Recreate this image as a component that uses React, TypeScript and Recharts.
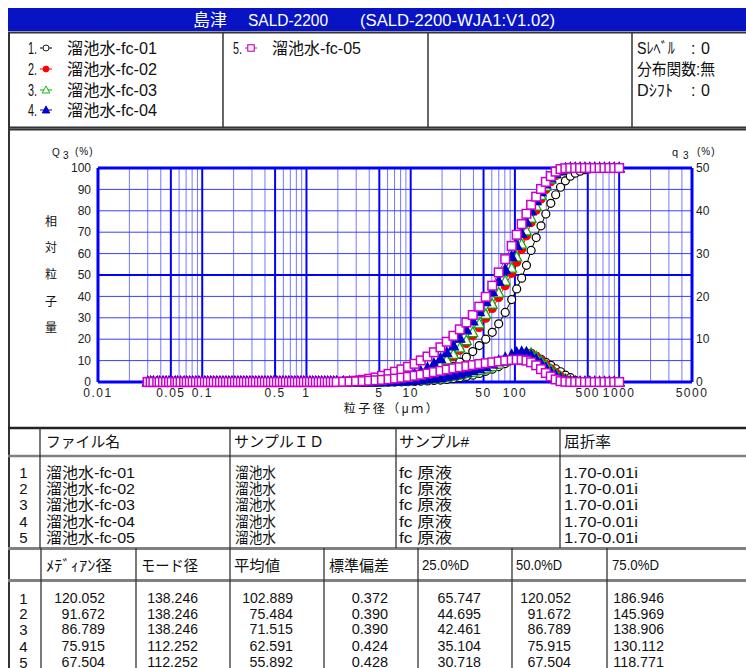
import React from 'react';
import { ComposedChart, Line, XAxis, YAxis, CartesianGrid } from 'recharts';

// particle size classes (µm)
const sizes = [
  0.030, 0.032, 0.034, 0.037, 0.039, 0.042, 0.045, 0.048, 0.051, 0.055,
  0.058, 0.062, 0.067, 0.071, 0.076, 0.081, 0.087, 0.093, 0.099, 0.106,
  0.113, 0.121, 0.129, 0.138, 0.148, 0.158, 0.169, 0.180, 0.193, 0.206,
  0.220, 0.235, 0.251, 0.268, 0.287, 0.306, 0.327, 0.350, 0.374, 0.399,
  0.427, 0.456, 0.487, 0.520, 0.556, 0.594, 0.635, 0.678, 0.725, 0.774,
  0.827, 0.884, 0.944, 1.01, 1.08, 1.15, 1.23, 1.31, 1.40, 1.50,
  1.60, 1.71, 1.83, 1.95,
  2.25, 2.59, 2.99, 3.46, 3.99, 4.60, 5.31, 6.13, 7.07, 8.16,
  9.42, 10.9, 12.5, 14.5, 16.7, 19.3, 22.2, 25.7, 29.6, 34.2,
  39.4, 45.5, 52.5, 60.6, 69.9, 80.7, 93.1,
  104, 116, 129, 143, 160, 178, 198, 221, 246, 274,
  305, 340, 379, 422, 470, 523, 583, 649, 723, 806, 897, 1000,
];

// Q3 undersize (%)
const cum1 = [
  0, 0, 0, 0, 0, 0, 0, 0, 0, 0, 0, 0, 0, 0, 0, 0, 0, 0, 0, 0,
  0, 0, 0, 0, 0, 0, 0, 0, 0, 0, 0, 0, 0, 0, 0, 0, 0, 0, 0, 0,
  0, 0, 0, 0, 0, 0, 0, 0, 0, 0, 0, 0, 0, 0, 0, 0, 0, 0, 0, 0,
  0, 0, 0, 0,
  0, 0, 0, 0, 0, 0, 0.05, 0.1, 0.2, 0.35, 0.6, 1.0, 1.5, 2.2, 3.1, 4.2,
  5.6, 7.3, 9.3, 11.6, 14.2, 17.0, 20.0, 23.2, 27.2, 32.5, 38.5,
  43.5, 48.5, 54.5, 61.5, 67.5, 73.0, 78.5, 83.5, 87.5, 91.0, 94.0,
  96.2, 97.6, 98.5, 99.2, 99.6, 99.9, 100, 100, 100, 100, 100,
];
const cum2 = [
  0, 0, 0, 0, 0, 0, 0, 0, 0, 0, 0, 0, 0, 0, 0, 0, 0, 0, 0, 0,
  0, 0, 0, 0, 0, 0, 0, 0, 0, 0, 0, 0, 0, 0, 0, 0, 0, 0, 0, 0,
  0, 0, 0, 0, 0, 0, 0, 0, 0, 0, 0, 0, 0, 0, 0, 0, 0, 0, 0, 0,
  0, 0, 0, 0,
  0, 0, 0.02, 0.04, 0.08, 0.15, 0.25, 0.4, 0.65, 1.0, 1.5, 2.2, 3.1, 4.2, 5.6, 7.4,
  9.5, 12.0, 14.8, 18.0, 21.6, 25.5, 29.8, 34.4, 39.5, 45.0, 50.8,
  56.0, 62.0, 68.3, 74.5, 80.3, 85.5, 90.0, 93.6, 96.4, 98.3, 99.4,
  99.9, 100, 100, 100, 100, 100, 100, 100, 100, 100, 100,
];
const cum3 = [
  0, 0, 0, 0, 0, 0, 0, 0, 0, 0, 0, 0, 0, 0, 0, 0, 0, 0, 0, 0,
  0, 0, 0, 0, 0, 0, 0, 0, 0, 0, 0, 0, 0, 0, 0, 0, 0, 0, 0, 0,
  0, 0, 0, 0, 0, 0, 0, 0, 0, 0, 0, 0, 0, 0, 0, 0, 0, 0, 0, 0,
  0, 0, 0, 0,
  0, 0.01, 0.03, 0.06, 0.1, 0.18, 0.3, 0.5, 0.8, 1.2, 1.8, 2.5, 3.5, 4.7, 6.2, 8.1,
  10.3, 12.9, 15.9, 19.3, 23.1, 27.2, 31.6, 36.4, 41.6, 47.2, 53.2,
  58.4, 64.4, 70.6, 76.6, 82.2, 87.2, 91.4, 94.7, 97.1, 98.7, 99.6,
  99.9, 100, 100, 100, 100, 100, 100, 100, 100, 100, 100,
];
const cum4 = [
  0, 0, 0, 0, 0, 0, 0, 0, 0, 0, 0, 0, 0, 0, 0, 0, 0, 0, 0, 0,
  0, 0, 0, 0, 0, 0, 0, 0, 0, 0, 0, 0, 0, 0, 0, 0, 0, 0, 0, 0,
  0, 0, 0, 0, 0, 0, 0, 0, 0, 0, 0, 0, 0, 0, 0, 0, 0, 0, 0, 0,
  0, 0, 0, 0,
  0.01, 0.02, 0.05, 0.1, 0.18, 0.3, 0.5, 0.8, 1.2, 1.8, 2.6, 3.6, 4.9, 6.5, 8.5, 10.9,
  13.7, 16.9, 20.5, 24.4, 28.5, 32.9, 37.5, 42.2, 47.0, 52.6, 58.6,
  63.8, 69.4, 74.8, 80.0, 84.8, 89.0, 92.6, 95.4, 97.5, 98.9, 99.7,
  100, 100, 100, 100, 100, 100, 100, 100, 100, 100, 100,
];
const cum5 = [
  0, 0, 0, 0, 0, 0, 0, 0, 0, 0, 0, 0, 0, 0, 0, 0, 0, 0, 0, 0,
  0, 0, 0, 0, 0, 0, 0, 0, 0, 0, 0, 0, 0, 0, 0, 0, 0, 0, 0, 0,
  0, 0, 0, 0, 0, 0, 0, 0, 0, 0, 0, 0, 0, 0, 0, 0, 0, 0, 0, 0,
  0, 0, 0, 0,
  0.1, 0.3, 0.6, 1.0, 1.5, 2.1, 2.9, 3.8, 4.8, 5.9, 7.1, 8.5, 10.1, 11.9, 13.9, 16.2,
  18.8, 21.6, 24.6, 27.8, 31.3, 35.2, 39.8, 45.0, 51.2, 57.4, 63.6,
  68.8, 73.8, 78.6, 82.8, 86.6, 90.2, 93.5, 96.2, 98.3, 99.5, 99.9,
  100, 100, 100, 100, 100, 100, 100, 100, 100, 100, 100,
];

// q3 frequency (%)
const frq1 = [
  0, 0, 0, 0, 0, 0, 0, 0, 0, 0, 0, 0, 0, 0, 0, 0, 0, 0, 0, 0,
  0, 0, 0, 0, 0, 0, 0, 0, 0, 0, 0, 0, 0, 0, 0, 0, 0, 0, 0, 0,
  0, 0, 0, 0, 0, 0, 0, 0, 0, 0, 0, 0, 0, 0, 0, 0, 0, 0, 0, 0,
  0, 0, 0, 0,
  0, 0, 0, 0, 0, 0, 0, 0, 0.02, 0.05, 0.08, 0.12, 0.18, 0.25, 0.35, 0.45,
  0.6, 0.8, 1.0, 1.3, 1.6, 2.0, 2.5, 3.0, 3.6, 4.3, 5.0,
  5.7, 6.3, 6.7, 6.7, 6.0, 5.3, 4.6, 3.9, 3.1, 2.4, 1.6,
  1.0, 0.4, 0.1, 0, 0, 0, 0, 0, 0, 0, 0,
];
const frq2 = [
  0, 0, 0, 0, 0, 0, 0, 0, 0, 0, 0, 0, 0, 0, 0, 0, 0, 0, 0, 0,
  0, 0, 0, 0, 0, 0, 0, 0, 0, 0, 0, 0, 0, 0, 0, 0, 0, 0, 0, 0,
  0, 0, 0, 0, 0, 0, 0, 0, 0, 0, 0, 0, 0, 0, 0, 0, 0, 0, 0, 0,
  0, 0, 0, 0,
  0, 0, 0, 0, 0, 0, 0.03, 0.06, 0.1, 0.15, 0.22, 0.3, 0.4, 0.55, 0.7, 0.9,
  1.1, 1.35, 1.6, 1.9, 2.2, 2.6, 3.0, 3.5, 4.1, 4.8, 5.5,
  6.1, 6.5, 6.8, 6.7, 6.0, 5.1, 4.1, 3.1, 2.2, 1.4, 0.7,
  0.25, 0.05, 0, 0, 0, 0, 0, 0, 0, 0, 0,
];
const frq3 = [
  0, 0, 0, 0, 0, 0, 0, 0, 0, 0, 0, 0, 0, 0, 0, 0, 0, 0, 0, 0,
  0, 0, 0, 0, 0, 0, 0, 0, 0, 0, 0, 0, 0, 0, 0, 0, 0, 0, 0, 0,
  0, 0, 0, 0, 0, 0, 0, 0, 0, 0, 0, 0, 0, 0, 0, 0, 0, 0, 0, 0,
  0, 0, 0, 0,
  0, 0, 0, 0, 0, 0, 0.04, 0.07, 0.12, 0.18, 0.25, 0.35, 0.45, 0.6, 0.75, 0.95,
  1.15, 1.4, 1.7, 2.0, 2.3, 2.7, 3.1, 3.6, 4.2, 4.9, 5.7,
  6.3, 6.7, 6.9, 6.7, 5.9, 4.9, 3.9, 2.9, 2.0, 1.2, 0.6,
  0.2, 0.05, 0, 0, 0, 0, 0, 0, 0, 0, 0,
];
const frq4 = [
  0, 0, 0, 0, 0, 0, 0, 0, 0, 0, 0, 0, 0, 0, 0, 0, 0, 0, 0, 0,
  0, 0, 0, 0, 0, 0, 0, 0, 0, 0, 0, 0, 0, 0, 0, 0, 0, 0, 0, 0,
  0, 0, 0, 0, 0, 0, 0, 0, 0, 0, 0, 0, 0, 0, 0, 0, 0, 0, 0, 0,
  0, 0, 0, 0,
  0, 0, 0, 0, 0, 0.03, 0.06, 0.1, 0.15, 0.22, 0.3, 0.4, 0.55, 0.7, 0.9, 1.1,
  1.35, 1.6, 1.9, 2.3, 2.7, 3.1, 3.6, 4.2, 4.9, 5.6, 6.3,
  6.8, 7.0, 6.8, 6.2, 5.3, 4.3, 3.3, 2.3, 1.5, 0.8, 0.3,
  0.1, 0, 0, 0, 0, 0, 0, 0, 0, 0, 0,
];
const frq5 = [
  0, 0, 0, 0, 0, 0, 0, 0, 0, 0, 0, 0, 0, 0, 0, 0, 0, 0, 0, 0,
  0, 0, 0, 0, 0, 0, 0, 0, 0, 0, 0, 0, 0, 0, 0, 0, 0, 0, 0, 0,
  0, 0, 0, 0, 0, 0, 0, 0, 0, 0, 0, 0, 0, 0, 0, 0, 0, 0, 0, 0,
  0, 0, 0, 0,
  0.05, 0.1, 0.15, 0.2, 0.3, 0.4, 0.5, 0.65, 0.8, 1.0, 1.2, 1.45, 1.7, 2.0, 2.3, 2.6,
  2.9, 3.2, 3.45, 3.7, 3.95, 4.2, 4.4, 4.6, 4.8, 5.0, 5.15,
  5.2, 5.2, 5.0, 4.6, 3.9, 3.0, 2.1, 1.3, 0.6, 0.2, 0.05,
  0, 0, 0, 0, 0, 0, 0, 0, 0, 0, 0,
];

const xTickValues = [0.01, 0.05, 0.1, 0.5, 1, 5, 10, 50, 100, 500, 1000, 5000];
const xMajorLines = [0.05, 0.1, 0.5, 1, 5, 10, 50, 100, 500, 1000];
const xMinorLines = [
  0.02, 0.03, 0.04, 0.06, 0.07, 0.08, 0.09, 0.2, 0.3, 0.4, 0.6, 0.7, 0.8, 0.9,
  2, 3, 4, 6, 7, 8, 9, 20, 30, 40, 60, 70, 80, 90, 200, 300, 400, 600, 700, 800, 900,
  2000, 3000, 4000,
];
const xBorderLines = [0.01, 5000];
const leftTicks = [0, 10, 20, 30, 40, 50, 60, 70, 80, 90, 100];
const rightTicks = [0, 10, 20, 30, 40, 50];
const hMinorLines = [10, 20, 30, 40, 60, 70, 80, 90];
const hMajorLines = [50];
const hBorderLines = [0, 100];

const fileNames = ['溜池水-fc-01', '溜池水-fc-02', '溜池水-fc-03', '溜池水-fc-04', '溜池水-fc-05'];
const sampleIds = ['溜池水', '溜池水', '溜池水', '溜池水', '溜池水'];
const sampleNos = ['fc 原液', 'fc 原液', 'fc 原液', 'fc 原液', 'fc 原液'];
const refIndex = ['1.70-0.01i', '1.70-0.01i', '1.70-0.01i', '1.70-0.01i', '1.70-0.01i'];
const medianD = ['120.052', '91.672', '86.789', '75.915', '67.504'];
const modeD = ['138.246', '138.246', '138.246', '112.252', '112.252'];
const meanD = ['102.889', '75.484', '71.515', '62.591', '55.892'];
const stdDev = ['0.372', '0.390', '0.390', '0.424', '0.428'];
const d25 = ['65.747', '44.695', '42.461', '35.104', '30.718'];
const d50 = ['120.052', '91.672', '86.789', '75.915', '67.504'];
const d75 = ['186.946', '145.969', '138.906', '130.112', '118.771'];

const cums = [cum1, cum2, cum3, cum4, cum5];
const frqs = [frq1, frq2, frq3, frq4, frq5];

const rows = sizes.map((d, i) => {
  const r: any = { d };
  cums.forEach((c, k) => (r['c' + (k + 1)] = c[i]));
  frqs.forEach((f, k) => (r['f' + (k + 1)] = f[i]));
  return r;
});

type Shape = 'circle' | 'triangle' | 'square';
const seriesStyle: { color: string; shape: Shape; filled: boolean }[] = [
  { color: '#000000', shape: 'circle', filled: false },
  { color: '#ff0000', shape: 'circle', filled: true },
  { color: '#00b000', shape: 'triangle', filled: false },
  { color: '#0000c8', shape: 'triangle', filled: true },
  { color: '#cc00cc', shape: 'square', filled: false },
];

const FONT = "'Liberation Sans','Noto Sans CJK JP',sans-serif";

function Marker({ cx, cy, shape, color, filled }: any) {
  const fill = filled ? color : '#ffffff';
  if (shape === 'circle') return <circle cx={cx} cy={cy} r={4} fill={fill} stroke={color} strokeWidth={1.2} />;
  if (shape === 'triangle')
    return (
      <polygon
        points={`${cx},${cy - 5.5} ${cx - 5},${cy + 4} ${cx + 5},${cy + 4}`}
        fill={fill}
        stroke={color}
        strokeWidth={1.2}
      />
    );
  return <rect x={cx - 4.3} y={cy - 4.3} width={8.6} height={8.6} fill={fill} stroke={color} strokeWidth={1.5} />;
}

const dotFor = (k: number) => (p: any) => {
  const s = seriesStyle[k];
  if (p.cx == null || p.cy == null) return <g key={p.index} />;
  return (
    <g key={p.index}>
      <Marker cx={p.cx} cy={p.cy} shape={s.shape} color={s.color} filled={s.filled} />
    </g>
  );
};

function Txt({ x, y, s = 15, anchor = 'start', fill = '#111', ls = 0, w, font = FONT, children }: any) {
  return (
    <text
      x={x}
      y={y}
      fontSize={s}
      textAnchor={anchor}
      dominantBaseline="central"
      fill={fill}
      letterSpacing={ls}
      fontFamily={font}
      textLength={w}
      lengthAdjust={w ? 'spacingAndGlyphs' : undefined}
    >
      {children}
    </text>
  );
}

// table numbers: fixed character cell like the instrument printout
function Num({ x, y, v }: any) {
  return (
    <Txt x={x} y={y} anchor="end" s={14.5} w={v.length * 7.25}>
      {v}
    </Txt>
  );
}

function LegendMark({ x, y, k }: any) {
  const s = seriesStyle[k];
  const small = 0.75;
  return (
    <g>
      <line x1={x - 6} y1={y} x2={x + 6} y2={y} stroke={s.color} strokeWidth={1} />
      <g transform={`translate(${x},${y}) scale(${small}) translate(${-x},${-y})`}>
        <Marker cx={x} cy={y} shape={s.shape} color={s.color} filled={s.filled} />
      </g>
    </g>
  );
}

const legendRowY = [48, 69, 90, 110];
const tbl1RowY = [472, 488, 504.5, 521, 537];
const tbl2RowY = [598, 613.5, 629, 646, 662];

function Frame() {
  const line = '#333';
  const gray = '#808080';
  return (
    <svg width={746} height={668} style={{ position: 'absolute', left: 0, top: 0 }}>
      <rect x={0} y={0} width={746} height={668} fill="#fff" />
      {/* title */}
      <rect x={8} y={8} width={738} height={23} fill="#0814c4" />
      <Txt x={193} y={20} fill="#fff" s={17}>島津</Txt>
      <Txt x={248} y={20} fill="#fff" s={16} w={80}>SALD-2200</Txt>
      <Txt x={360} y={20} fill="#fff" s={16} w={195}>(SALD-2200-WJA1:V1.02)</Txt>

      {/* legend box */}
      <line x1={8} y1={32.5} x2={746} y2={32.5} stroke={line} strokeWidth={2} />
      <line x1={8} y1={127.5} x2={746} y2={127.5} stroke={line} strokeWidth={2} />
      {[223, 428, 632].map((x) => (
        <line key={x} x1={x} y1={32} x2={x} y2={127} stroke={line} strokeWidth={1.5} />
      ))}
      {[0, 1, 2, 3].map((k) => (
        <g key={k}>
          <Txt x={28} y={legendRowY[k]} s={16} w={9}>{k + 1 + '.'}</Txt>
          <LegendMark x={46} y={legendRowY[k]} k={k} />
          <Txt x={67} y={legendRowY[k]} s={16} w={90}>{fileNames[k]}</Txt>
        </g>
      ))}
      <Txt x={233} y={legendRowY[0]} s={16} w={9}>5.</Txt>
      <LegendMark x={251} y={legendRowY[0]} k={4} />
      <Txt x={272} y={legendRowY[0]} s={16} w={89}>{fileNames[4]}</Txt>
      <Txt x={637} y={legendRowY[0]} s={16} w={38}>Sﾚﾍﾞﾙ</Txt>
      <Txt x={691} y={legendRowY[0]} s={16}>:</Txt>
      <Txt x={701} y={legendRowY[0]} s={16}>0</Txt>
      <Txt x={637} y={legendRowY[1]} s={16} w={78}>分布関数:無</Txt>
      <Txt x={637} y={legendRowY[2]} s={16} w={36}>Dｼﾌﾄ</Txt>
      <Txt x={691} y={legendRowY[2]} s={16}>:</Txt>
      <Txt x={701} y={legendRowY[2]} s={16}>0</Txt>

      {/* chart box */}
      <line x1={8} y1={129.5} x2={746} y2={129.5} stroke={line} strokeWidth={2} />
      <line x1={9} y1={32} x2={9} y2={668} stroke={line} strokeWidth={2} />
      <Txt x={52} y={152} s={10}>Q</Txt>
      <Txt x={63} y={155} s={10}>3</Txt>
      <Txt x={75} y={151} s={10} ls={1}>(%)</Txt>
      <Txt x={672} y={152} s={11}>q</Txt>
      <Txt x={683} y={155} s={10}>3</Txt>
      <Txt x={697} y={151} s={10} ls={1}>(%)</Txt>
      {['相', '対', '粒', '子', '量'].map((c, i) => (
        <Txt key={c} x={51} y={[221.5, 248, 275, 301.5, 328][i]} s={12} anchor="middle">
          {c}
        </Txt>
      ))}
      <Txt x={392} y={409} s={12} anchor="middle" ls={2.5}>粒子径（μｍ）</Txt>

      {/* table 1 */}
      <line x1={8} y1={428} x2={746} y2={428} stroke="#222" strokeWidth={2.5} />
      <line x1={8} y1={456} x2={746} y2={456} stroke={gray} strokeWidth={2.5} />
      <line x1={8} y1={548.5} x2={746} y2={548.5} stroke={gray} strokeWidth={3} />
      {[40, 230, 396, 560].map((x) => (
        <line key={x} x1={x} y1={428} x2={x} y2={548} stroke={line} strokeWidth={1.3} />
      ))}
      <Txt x={46} y={441} w={74}>ファイル名</Txt>
      <Txt x={234} y={441} w={90}>サンプルＩＤ</Txt>
      <Txt x={399} y={441} w={70}>サンプル#</Txt>
      <Txt x={564} y={441} w={47}>屈折率</Txt>
      {tbl1RowY.map((y, i) => (
        <g key={i}>
          <Txt x={23.5} y={y} anchor="middle">{String(i + 1)}</Txt>
          <Txt x={46} y={y} w={89}>{fileNames[i]}</Txt>
          <Txt x={235} y={y} w={41}>{sampleIds[i]}</Txt>
          <Txt x={399} y={y} w={53}>{sampleNos[i]}</Txt>
          <Txt x={564} y={y} w={74}>{refIndex[i]}</Txt>
        </g>
      ))}

      {/* table 2 */}
      <line x1={8} y1={580.5} x2={746} y2={580.5} stroke={gray} strokeWidth={3} />
      {[41, 136, 230, 324, 418, 512, 607].map((x) => (
        <line key={x} x1={x} y1={548} x2={x} y2={668} stroke={line} strokeWidth={1.3} />
      ))}
      <Txt x={46} y={565} w={66}>ﾒﾃﾞｨｱﾝ径</Txt>
      <Txt x={141} y={565} w={57}>モード径</Txt>
      <Txt x={234} y={565} w={46}>平均値</Txt>
      <Txt x={329} y={565} w={60}>標準偏差</Txt>
      <Txt x={422} y={565} s={14} w={47}>25.0%D</Txt>
      <Txt x={516} y={565} s={14} w={46}>50.0%D</Txt>
      <Txt x={612} y={565} s={14} w={47}>75.0%D</Txt>
      {tbl2RowY.map((y, i) => (
        <g key={i}>
          <Txt x={23.5} y={y} anchor="middle">{String(i + 1)}</Txt>
          <Num x={105} y={y} v={medianD[i]} />
          <Num x={198} y={y} v={modeD[i]} />
          <Num x={293} y={y} v={meanD[i]} />
          <Num x={388} y={y} v={stdDev[i]} />
          <Num x={481} y={y} v={d25[i]} />
          <Num x={571} y={y} v={d50[i]} />
          <Num x={664} y={y} v={d75[i]} />
        </g>
      ))}
    </svg>
  );
}

// hidden axes only used to place the grid lines
const gridX = [
  { id: 'xminor', ticks: xMinorLines },
  { id: 'xmajor', ticks: xMajorLines },
  { id: 'xborder', ticks: xBorderLines },
];
const gridY = [
  { id: 'yminor', ticks: hMinorLines },
  { id: 'ymajor', ticks: hMajorLines },
  { id: 'yborder', ticks: hBorderLines },
];

export default function App() {
  const tickStyle = { fontSize: 12, fill: '#222', fontFamily: FONT };
  return (
    <div style={{ position: 'absolute', left: 0, top: 0, width: 746, height: 668, overflow: 'hidden', background: '#fff' }}>
      <Frame />
      <div style={{ position: 'absolute', left: 0, top: 130 }}>
        <ComposedChart width={746} height={295} data={rows} margin={{ top: 38, right: 14, bottom: 13, left: 38 }}>
          {gridX.map((g) => (
            <XAxis
              key={g.id}
              xAxisId={g.id}
              dataKey="d"
              type="number"
              scale="log"
              domain={[0.01, 5000]}
              ticks={g.ticks}
              interval={0}
              allowDataOverflow
              hide
            />
          ))}
          {gridY.map((g) => (
            <YAxis
              key={g.id}
              yAxisId={g.id}
              type="number"
              domain={[0, 100]}
              ticks={g.ticks}
              interval={0}
              allowDataOverflow
              hide
            />
          ))}
          <CartesianGrid xAxisId="xminor" yAxisId="yminor" horizontal={false} stroke="#7878ff" strokeWidth={1} />
          <CartesianGrid xAxisId="xminor" yAxisId="yminor" vertical={false} stroke="#3c3cff" strokeWidth={1} />
          <CartesianGrid xAxisId="xmajor" yAxisId="ymajor" stroke="#0000ff" strokeWidth={2} />
          <CartesianGrid xAxisId="xborder" yAxisId="yborder" stroke="#0000ff" strokeWidth={3} />
          <XAxis
            dataKey="d"
            type="number"
            scale="log"
            domain={[0.01, 5000]}
            ticks={xTickValues}
            interval={0}
            allowDataOverflow
            axisLine={false}
            tickLine={false}
            tickSize={0}
            tickMargin={6}
            height={30}
            tick={{ ...tickStyle, letterSpacing: 1.5 }}
            tickFormatter={(v: number) => String(v)}
          />
          <YAxis
            yAxisId="L"
            domain={[0, 100]}
            ticks={leftTicks}
            interval={0}
            width={60}
            axisLine={false}
            tickLine={false}
            tickSize={0}
            tickMargin={7}
            tick={tickStyle}
          />
          <YAxis
            yAxisId="R"
            orientation="right"
            domain={[0, 50]}
            ticks={rightTicks}
            interval={0}
            width={40}
            axisLine={false}
            tickLine={false}
            tickSize={0}
            tickMargin={4}
            tick={tickStyle}
          />
          {[0, 1, 2, 3, 4].flatMap((k) => [
            <Line
              key={'c' + k}
              type="linear"
              dataKey={'c' + (k + 1)}
              yAxisId="L"
              stroke={seriesStyle[k].color}
              strokeWidth={1}
              dot={dotFor(k)}
              activeDot={false}
              isAnimationActive={false}
            />,
            <Line
              key={'f' + k}
              type="linear"
              dataKey={'f' + (k + 1)}
              yAxisId="R"
              stroke={seriesStyle[k].color}
              strokeWidth={1}
              dot={dotFor(k)}
              activeDot={false}
              isAnimationActive={false}
            />,
          ])}
        </ComposedChart>
      </div>
    </div>
  );
}
